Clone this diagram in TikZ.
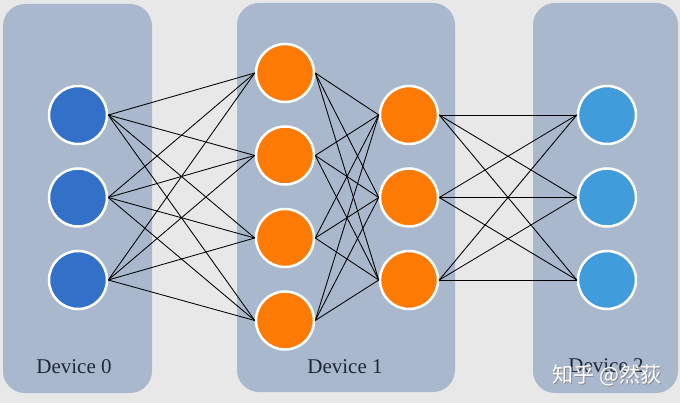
\documentclass[tikz,border=0pt]{standalone}
\usepackage{fontspec}
\setmainfont{Liberation Serif}
\newfontfamily\cjk{Noto Sans CJK SC}
\definecolor{bgc}{HTML}{E8E8E8}
\definecolor{boxc}{HTML}{A9B8CD}
\definecolor{dblue}{HTML}{3370C8}
\definecolor{orng}{HTML}{FD7A05}
\definecolor{lblue}{HTML}{409CDB}
\definecolor{txtc}{HTML}{1E2836}
\tikzset{
  devbox/.style={fill=boxc, draw=none, rounded corners=22pt},
  neuron/.style={circle, draw=white, line width=2.5pt, minimum size=58pt, inner sep=0pt},
  n0/.style={neuron, fill=dblue},
  n1/.style={neuron, fill=orng},
  n2/.style={neuron, fill=lblue},
  link/.style={black, line width=0.85pt},
  devlabel/.style={font=\fontsize{21}{24}\selectfont, text=txtc, inner sep=0pt},
  wmark/.style={font=\cjk\fontsize{21}{24}\selectfont, inner sep=0pt}
}
\begin{document}
\begin{tikzpicture}[x=1pt,y=-1pt]
\useasboundingbox (0,0) rectangle (680,403);
\fill[bgc] (0,0) rectangle (680,403);
% device boxes
\fill[devbox] (3,4) rectangle (152,393);
\fill[devbox] (237,3) rectangle (455,392);
\fill[devbox] (533,3) rectangle (678,393);
% labels
\node[devlabel] (l0) at (74,367) {Device 0};
\node[devlabel] (l1) at (345,367) {Device 1};
\node[devlabel] (l2) at (606,366) {Device 2};
% neurons
\foreach \i/\y in {1/115,2/197.5,3/280} {
  \node[n0] (a\i) at (78,\y) {};
  \node[n1] (c\i) at (409,\y) {};
  \node[n2] (d\i) at (607,\y) {};
}
\foreach \i/\y in {1/73,2/155.5,3/238,4/320.5} {
  \node[n1] (b\i) at (285,\y) {};
}
% links
\foreach \i in {1,2,3} {
  \foreach \j in {1,2,3,4} {
    \draw[link] (a\i.east) -- (b\j.west);
    \draw[link] (b\j.east) -- (c\i.west);
  }
  \foreach \j in {1,2,3} {
    \draw[link] (c\i.east) -- (d\j.west);
  }
}
% watermark
\node[wmark, text=black!45] (wms) at (608.2,376.2) {知乎 @然荻};
\node[wmark, text=white] (wm) at (607,375) {知乎 @然荻};
\end{tikzpicture}
\end{document}
